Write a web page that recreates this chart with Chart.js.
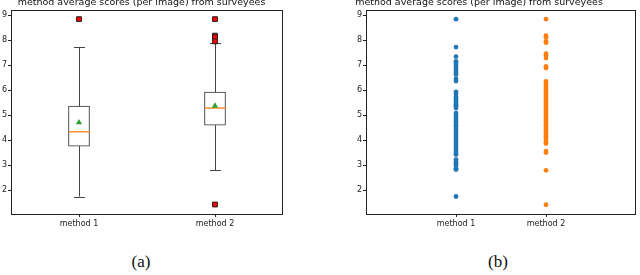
<!DOCTYPE html>
<html>
<head>
<meta charset="utf-8">
<script src="https://cdn.jsdelivr.net/npm/chart.js@4"></script>
<style>
  html, body { margin: 0; padding: 0; background: #fff; overflow: hidden; }
  body { width: 640px; height: 275px; position: relative; }
  canvas { position: absolute; top: -3px; }
  .cap { position: absolute; top: 252px; font: 17px "Liberation Serif", "DejaVu Serif", serif; color: #111; transform: translateX(-50%); }
</style>
</head>
<body>
<canvas id="box-chart" width="320" height="240" style="left:0"></canvas>
<canvas id="strip-chart" width="320" height="240" style="left:320px"></canvas>
<div class="cap" style="left:141px">(a)</div>
<div class="cap" style="left:498px">(b)</div>
<script>
const TITLE = 'method average scores (per image) from surveyees';
const categories = ['method 1', 'method 2'];
const yTicks = [2, 3, 4, 5, 6, 7, 8, 9];

// box plot stats
const whiskerLow = [1.74, 2.80];
const q1 = [3.76, 4.60];
const medians = [4.33, 5.28];
const q3 = [5.36, 5.92];
const whiskerHigh = [7.71, 7.90];
const means = [4.70, 5.37];
const outliers1 = [8.84];
const outliers2 = [8.84, 8.18, 8.12, 7.95, 1.42];

// per-image scores, panel (b)
const scores1 = [8.84, 7.72, 7.34, 7.15, 7.08, 7.0, 6.92, 6.84, 6.76, 6.68, 6.62, 6.45, 6.36,
  5.93, 5.86, 5.74, 5.66, 5.58, 5.5, 5.42, 5.35, 5.28, 5.08, 5.0, 4.92, 4.84, 4.76, 4.68,
  4.6, 4.54, 4.44, 4.36, 4.28, 4.2, 4.12, 4.04, 3.96, 3.88, 3.8, 3.72, 3.64, 3.56, 3.48,
  3.42, 3.22, 3.14, 3.06, 2.98, 2.86, 2.82, 1.74];
const scores2 = [8.84, 8.18, 8.12, 7.95, 7.9, 7.46, 7.38, 7.28, 6.95, 6.88, 6.35, 6.28, 6.2,
  6.12, 6.05, 5.98, 5.92, 5.85, 5.78, 5.72, 5.65, 5.58, 5.52, 5.45, 5.38, 5.32, 5.25, 5.18,
  5.12, 5.05, 4.98, 4.92, 4.85, 4.78, 4.72, 4.65, 4.58, 4.52, 4.45, 4.38, 4.3, 4.22, 4.15,
  4.08, 4.0, 3.92, 3.86, 3.56, 3.5, 2.79, 1.41];

const FONT = 'DejaVu Sans';
Chart.defaults.font.family = FONT;
Chart.defaults.color = '#222';

// matplotlib-style frame around the axes
const framePlugin = {
  id: 'frame',
  afterDraw(chart) {
    const { ctx, chartArea: a } = chart;
    ctx.save();
    ctx.strokeStyle = '#222';
    ctx.lineWidth = 1;
    ctx.strokeRect(Math.round(a.left) + 0.5, Math.round(a.top) + 0.5,
      Math.round(a.right - a.left) - 1, Math.round(a.bottom - a.top));
    ctx.restore();
  }
};

// whiskers, caps and median lines drawn from the stats through the scales
const boxPlugin = {
  id: 'boxExtras',
  afterDatasetDraw(chart, args) {
    if (args.meta.type !== 'bar') return;
    const { ctx } = chart;
    const xs = chart.scales.x, ys = chart.scales.y;
    ctx.save();
    categories.forEach((c, i) => {
      const x = Math.round(xs.getPixelForValue(i + 1)) + 0.5;
      ctx.strokeStyle = '#444';
      ctx.lineWidth = 1;
      ctx.beginPath();
      ctx.moveTo(x, ys.getPixelForValue(whiskerLow[i]));
      ctx.lineTo(x, ys.getPixelForValue(q1[i]));
      ctx.moveTo(x, ys.getPixelForValue(q3[i]));
      ctx.lineTo(x, ys.getPixelForValue(whiskerHigh[i]));
      [whiskerLow[i], whiskerHigh[i]].forEach(v => {
        const y = Math.round(ys.getPixelForValue(v)) + 0.5;
        ctx.moveTo(x - 5.5, y);
        ctx.lineTo(x + 5.5, y);
      });
      ctx.stroke();
      ctx.strokeStyle = '#ff7f0e';
      ctx.lineWidth = 1.3;
      ctx.beginPath();
      const ym = ys.getPixelForValue(medians[i]);
      ctx.moveTo(x - 10.5, ym);
      ctx.lineTo(x + 10.5, ym);
      ctx.stroke();
    });
    ctx.restore();
  }
};

function yAxis(width) {
  return {
    type: 'linear',
    min: 1.04,
    max: 9.19,
    afterBuildTicks: s => { s.ticks = yTicks.map(v => ({ value: v })); },
    afterFit: s => { s.width = width; },
    grid: { display: true, drawOnChartArea: false, tickLength: 3, color: '#222' },
    border: { display: false },
    ticks: { font: { size: 8 }, padding: 1, color: '#222' }
  };
}

function xAxis(min, max, positions) {
  return {
    type: 'linear',
    min, max,
    offset: false,
    afterBuildTicks: s => { s.ticks = positions.map(v => ({ value: v })); },
    afterFit: s => { s.height = 23; },
    grid: { display: true, offset: false, drawOnChartArea: false, tickLength: 3, color: '#222' },
    border: { display: false },
    ticks: {
      font: { size: 8 }, padding: 2, color: '#222', maxRotation: 0,
      callback: v => categories[positions.indexOf(v)] ?? ''
    }
  };
}

function titleOpts() {
  return {
    display: true,
    text: TITLE,
    color: '#111',
    font: { family: FONT, size: 9.5, weight: 'normal' },
    padding: { top: 0, bottom: 2 }
  };
}

new Chart(document.getElementById('box-chart'), {
  type: 'bar',
  data: {
    datasets: [
      {
        type: 'scatter',
        label: 'mean',
        data: means.map((m, i) => ({ x: i + 1, y: m })),
        pointStyle: 'triangle',
        radius: 3.6,
        backgroundColor: '#2ca02c',
        borderColor: '#2ca02c',
        borderWidth: 0,
        order: 0
      },
      {
        type: 'scatter',
        label: 'outliers',
        data: outliers1.map(v => ({ x: 1, y: v })).concat(outliers2.map(v => ({ x: 2, y: v }))),
        pointStyle: 'rect',
        radius: 3.4,
        backgroundColor: '#ff0000',
        borderColor: '#222',
        borderWidth: 1,
        order: 1
      },
      {
        type: 'bar',
        label: 'box',
        data: categories.map((c, i) => ({ x: i + 1, y: [q1[i], q3[i]] })),
        backgroundColor: '#fff',
        borderColor: '#333',
        borderWidth: 1,
        borderSkipped: false,
        barThickness: 21,
        order: 3
      }
    ]
  },
  options: {
    responsive: false,
    devicePixelRatio: 1,
    animation: false,
    layout: { padding: { left: 0, right: 37, top: 0, bottom: 0 } },
    plugins: { legend: { display: false }, tooltip: { enabled: false }, title: titleOpts() },
    scales: { x: xAxis(0.5, 2.5, [1, 2]), y: yAxis(11) }
  },
  plugins: [boxPlugin, framePlugin]
});

new Chart(document.getElementById('strip-chart'), {
  type: 'scatter',
  data: {
    datasets: [
      {
        label: categories[0],
        data: scores1.map(v => ({ x: 0, y: v })),
        backgroundColor: '#1f77b4',
        borderWidth: 0,
        radius: 2.4
      },
      {
        label: categories[1],
        data: scores2.map(v => ({ x: 1, y: v })),
        backgroundColor: '#ff7f0e',
        borderWidth: 0,
        radius: 2.4
      }
    ]
  },
  options: {
    responsive: false,
    devicePixelRatio: 1,
    animation: false,
    layout: { padding: { left: 0, right: 2, top: 0, bottom: 0 } },
    plugins: { legend: { display: false }, tooltip: { enabled: false }, title: titleOpts() },
    scales: { x: xAxis(-1, 2, [0, 1]), y: yAxis(46) }
  },
  plugins: [framePlugin]
});
</script>
</body>
</html>
